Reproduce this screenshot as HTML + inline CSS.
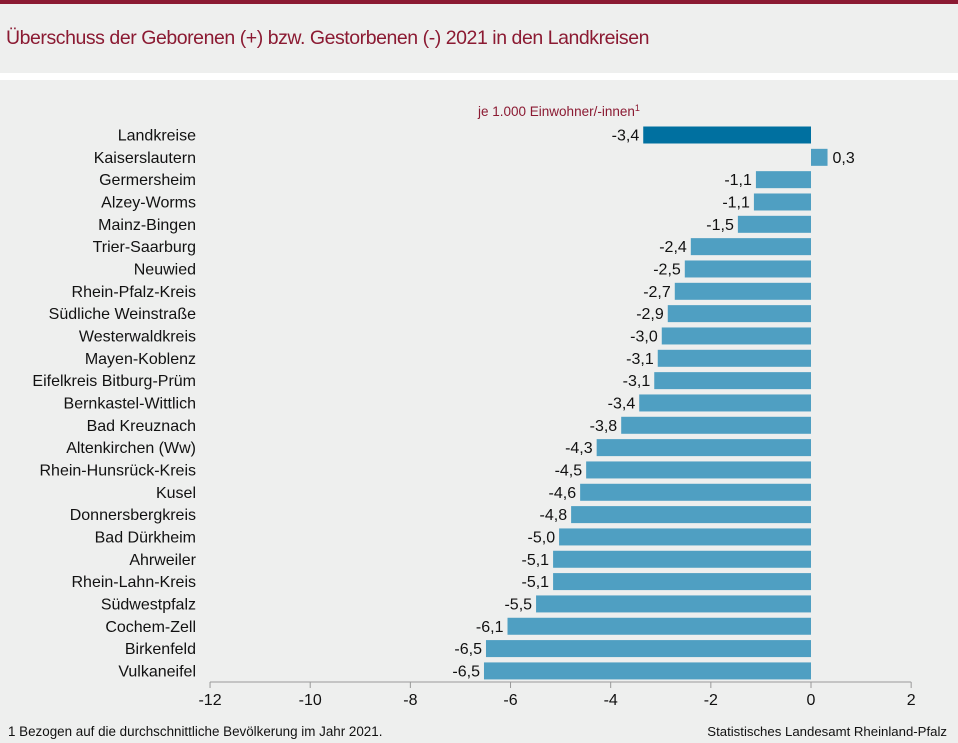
<!DOCTYPE html>
<html><head><meta charset="utf-8"><style>
body{margin:0;width:958px;height:743px;background:#eeefee;font-family:"Liberation Sans",sans-serif;overflow:hidden;position:relative}
#top{position:absolute;left:0;top:0;width:958px;height:4px;background:#8b1a32}
#title{position:absolute;left:6px;top:27px;font-size:19.5px;color:#8b1a32;letter-spacing:-0.45px;white-space:nowrap}
#sep{position:absolute;left:0;top:73px;width:958px;height:7px;background:#fff}
svg{position:absolute;left:0;top:0}
</style></head><body>
<div id="top"></div>
<div id="title">Überschuss der Geborenen (+) bzw. Gestorbenen (-) 2021 in den Landkreisen</div>
<div id="sep"></div>
<svg id="chart" width="958" height="743"></svg>
<script>
const categories=["Landkreise","Kaiserslautern","Germersheim","Alzey-Worms","Mainz-Bingen","Trier-Saarburg","Neuwied","Rhein-Pfalz-Kreis","Südliche Weinstraße","Westerwaldkreis","Mayen-Koblenz","Eifelkreis Bitburg-Prüm","Bernkastel-Wittlich","Bad Kreuznach","Altenkirchen (Ww)","Rhein-Hunsrück-Kreis","Kusel","Donnersbergkreis","Bad Dürkheim","Ahrweiler","Rhein-Lahn-Kreis","Südwestpfalz","Cochem-Zell","Birkenfeld","Vulkaneifel"];
const values=[-3.35,0.33,-1.1,-1.14,-1.46,-2.4,-2.52,-2.72,-2.86,-2.98,-3.06,-3.13,-3.43,-3.79,-4.28,-4.49,-4.61,-4.79,-5.03,-5.15,-5.15,-5.49,-6.06,-6.49,-6.53];
const labels=["-3,4","0,3","-1,1","-1,1","-1,5","-2,4","-2,5","-2,7","-2,9","-3,0","-3,1","-3,1","-3,4","-3,8","-4,3","-4,5","-4,6","-4,8","-5,0","-5,1","-5,1","-5,5","-6,1","-6,5","-6,5"];
const ticks=[-12,-10,-8,-6,-4,-2,0,2];
const svg=document.getElementById('chart');const NS='http://www.w3.org/2000/svg';
const x=v=>811+(v)*50.08;
const y=i=>135+i*22.33;
function mk(t,a,txt){const e=document.createElementNS(NS,t);for(const k in a)e.setAttribute(k,a[k]);if(txt!=null)e.textContent=txt;svg.appendChild(e);return e;}
let st=mk('text',{x:478,y:116,'font-size':13.5,fill:'#8b1a32','font-family':'Liberation Sans'},'je 1.000 Einwohner/-innen');


let sup=document.createElementNS(NS,'tspan');sup.setAttribute('font-size',9);sup.setAttribute('dy',-5);sup.textContent='1';st.appendChild(sup);
categories.forEach((c,i)=>{
 const v=values[i];const x0=x(Math.min(0,v)),w=Math.abs(x(v)-x(0));
 let r=mk('rect',{x:x0,y:y(i)-8.5,width:w,height:17,fill:i==0?'#0070a0':'#4f9fc2'});
 
 
 let t=mk('text',{x:196,y:y(i)+5.5,'text-anchor':'end','font-size':16,fill:'#111'},c);
 
 
 let vl=v<0?mk('text',{x:x(v)-4,y:y(i)+5.5,'text-anchor':'end','font-size':16,fill:'#111'},labels[i]):mk('text',{x:x(v)+5,y:y(i)+5.5,'font-size':16,fill:'#111'},labels[i]);
 
 
});
let ax=mk('line',{x1:x(-12),x2:x(2),y1:682,y2:682,stroke:'#999','stroke-width':1});


ticks.forEach(tk=>{
 let l=mk('line',{x1:x(tk),x2:x(tk),y1:682,y2:688,stroke:'#999'});
 
 
 let t=mk('text',{x:x(tk),y:705,'text-anchor':'middle','font-size':16,fill:'#111'},String(tk));
 
 
});
let f=mk('text',{x:8,y:736,'font-size':13.4,fill:'#111'},'1 Bezogen auf die durchschnittliche Bevölkerung  im Jahr 2021.');


let s=mk('text',{x:947,y:736,'text-anchor':'end','font-size':13.2,fill:'#111'},'Statistisches Landesamt Rheinland-Pfalz');


</script>
</body></html>
